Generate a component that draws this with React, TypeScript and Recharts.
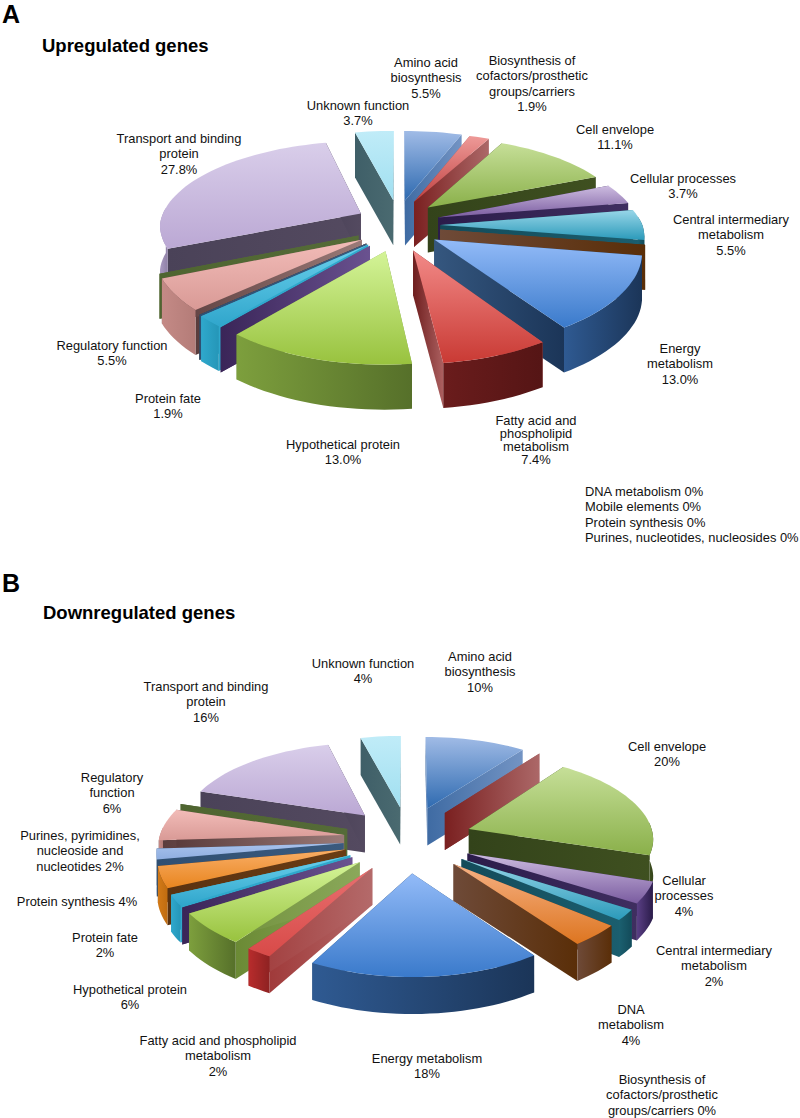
import { PieChart, Pie } from 'recharts'

const categories = [
  'Amino acid biosynthesis', 'Biosynthesis of cofactors', 'Cell envelope', 'Cellular processes',
  'Central intermediary metabolism', 'DNA metabolism', 'Energy metabolism', 'Fatty acid and phospholipid metabolism',
  'Hypothetical protein', 'Mobile elements', 'Protein fate', 'Protein synthesis', 'Purines', 'Regulatory function',
  'Signal transduction', 'Transport and binding protein', 'Unknown function',
]
const upValues = [5.5, 1.9, 11.1, 3.7, 5.5, 0, 13.0, 7.4, 13.0, 0, 1.9, 0, 0, 5.5, 0, 27.8, 3.7]
const downValues = [10, 0, 20, 4, 2, 4, 18, 2, 6, 0, 2, 4, 2, 6, 0, 16, 4]

// top light, top dark, radial wall left/right, outer wall left/right
const palette = [
  ['#A0BBE6', '#2E6AB0', '#3F6BA3', '#7394C4', '#3F6BA3', '#2E5A92'],
  ['#EE9A98', '#C04040', '#7A2020', '#AC6868', '#8A2A2A', '#6A1C1C'],
  ['#C6DF98', '#8AB04A', '#33431A', '#3F5020', '#3F5020', '#33431A'],
  ['#CDBCE0', '#7A5CA0', '#2B1C4A', '#3F2E60', '#5A3F85', '#2B1C4A'],
  ['#98D6E8', '#2B9ABA', '#134B5A', '#1B5E6E', '#1B6070', '#134B5A'],
  ['#F6B184', '#DD7520', '#6E4A38', '#5A2E08', '#6E4A38', '#5A2E08'],
  ['#93BBF8', '#3A7ACB', '#35577F', '#1B3558', '#2F5A92', '#1B3558'],
  ['#F28A88', '#C93A34', '#6E1E1E', '#AC6060', '#6A1C1C', '#551515'],
  ['#D4F498', '#98C23E', '#6B8A35', '#8AA85A', '#7D9F3D', '#56702A'],
  ['#5A3F85', '#5A3F85', '#3A2558', '#6A5290', '#3A2558', '#3A2558'],
  ['#6BD0EC', '#30A6CC', '#2FA8CC', '#2FA8CC', '#2FA8CC', '#2596B8'],
  ['#F9AE66', '#E8851F', '#5A3210', '#6A3C14', '#D27A18', '#C06C10'],
  ['#A8C2EC', '#8FAEE0', '#2F4F72', '#3A5A7E', '#7E9CC8', '#6A8AB8'],
  ['#F2BCB8', '#D99A96', '#5A3C3C', '#9A7A78', '#C48A86', '#B47C78'],
  ['#4F6530', '#4F6530', '#4F6530', '#556B38', '#4F6530', '#4F6530'],
  ['#D9CEEA', '#BBA8D4', '#4A4258', '#544A60', '#A99AC0', '#8F80A6'],
  ['#C0ECF8', '#A0DFF0', '#3F5F68', '#4A6A70', '#3F5F68', '#3F5F68'],
]
// the thin fatty acid slice of chart B has a bright outer wall
const downOverrides: Record<number, string[]> = {
  7: ['#E87070', '#D84A48', '#A03A3A', '#B46A6A', '#B82C2C', '#8E2222'],
}

const upLabels = [
  { x: 426, y: 62, lines: ['Amino acid', 'biosynthesis', '5.5%'] },
  { x: 532, y: 60, lines: ['Biosynthesis of', 'cofactors/prosthetic', 'groups/carriers', '1.9%'] },
  { x: 615, y: 129, lines: ['Cell envelope', '11.1%'] },
  { x: 683, y: 178, lines: ['Cellular processes', '3.7%'] },
  { x: 731, y: 219, lines: ['Central intermediary', 'metabolism', '5.5%'] },
  { x: 680, y: 348, lines: ['Energy', 'metabolism', '13.0%'] },
  { x: 536, y: 420, lines: ['Fatty acid and', 'phospholipid', 'metabolism', '7.4%'], step: 13 },
  { x: 343, y: 444, lines: ['Hypothetical protein', '13.0%'] },
  { x: 168, y: 398, lines: ['Protein fate', '1.9%'] },
  { x: 112, y: 345, lines: ['Regulatory function', '5.5%'] },
  { x: 179, y: 138, lines: ['Transport and binding', 'protein', '27.8%'] },
  { x: 358, y: 105, lines: ['Unknown function', '3.7%'] },
]
const upZeroLabels = ['DNA metabolism 0%', 'Mobile elements 0%', 'Protein synthesis 0%', 'Purines, nucleotides, nucleosides 0%']

const downLabels = [
  { x: 480, y: 656, lines: ['Amino acid', 'biosynthesis', '10%'] },
  { x: 363, y: 663, lines: ['Unknown function', '4%'] },
  { x: 206, y: 686, lines: ['Transport and binding', 'protein', '16%'] },
  { x: 667, y: 746, lines: ['Cell envelope', '20%'] },
  { x: 112, y: 777, lines: ['Regulatory', 'function', '6%'] },
  { x: 80, y: 835, lines: ['Purines, pyrimidines,', 'nucleoside and', 'nucleotides 2%'] },
  { x: 77, y: 901, lines: ['Protein synthesis 4%'] },
  { x: 105, y: 937, lines: ['Protein fate', '2%'] },
  { x: 130, y: 989, lines: ['Hypothetical protein', '6%'] },
  { x: 218, y: 1040, lines: ['Fatty acid and phospholipid', 'metabolism', '2%'] },
  { x: 427, y: 1058, lines: ['Energy metabolism', '18%'] },
  { x: 631, y: 1009, lines: ['DNA', 'metabolism', '4%'] },
  { x: 714, y: 950, lines: ['Central intermediary', 'metabolism', '2%'] },
  { x: 684, y: 880, lines: ['Cellular', 'processes', '4%'] },
  { x: 662, y: 1079, lines: ['Biosynthesis of', 'cofactors/prosthetic', 'groups/carriers 0%'] },
]

interface Tilt {
  id: string
  ry: number
  persp: number
  frontX: number
  ex: number
  ey: number
  depth: number
  overrides?: Record<number, string[]>
}

const upTilt: Tilt = { id: 'up', ry: 87, persp: 0.154, frontX: 0.115, ex: 0.21, ey: 0.3, depth: 45 }
const downTilt: Tilt = { id: 'down', ry: 85, persp: 0.104, frontX: 0.088, ex: 0.35, ey: 0.39, depth: 37, overrides: downOverrides }

const toTable = (values: number[]) => categories.map((name, i) => ({ name, value: values[i] }))

// back slices get painted first so the front ones cover them
const paintOrder = (values: number[]) => {
  const total = values.reduce((a, b) => a + b, 0)
  let run = 0
  const mids = values.map((v, i) => {
    const mid = run + v / 2
    run += v
    return { i, depth: -Math.cos((mid / total) * 2 * Math.PI) }
  })
  return mids.sort((a, b) => a.depth - b.depth).map((m) => m.i)
}

const poly = (pts: number[][]) => pts.map((p) => `${p[0].toFixed(1)},${p[1].toFixed(1)}`).join(' ')

// one wedge of the tilted pie, from the angles the Pie worked out
const wedge = (tilt: Tilt, only: number) => (props: any) => {
  const idx = categories.indexOf(props.name)
  if (idx !== only) return <g />
  const { cx, cy, outerRadius, startAngle, endAngle } = props
  const a0 = ((90 - startAngle) * Math.PI) / 180
  const a1 = ((90 - endAngle) * Math.PI) / 180
  const mid = (a0 + a1) / 2
  const offU = tilt.ex * Math.sin(mid)
  const offV = -tilt.ey * Math.cos(mid)
  const at = (r: number, a: number) => {
    const u = r * Math.sin(a) + offU
    const v = -r * Math.cos(a) + offV
    const s = 1 / (1 - tilt.persp * v)
    // front half widens less than it drops
    const sx = v > 0 ? 1 / (1 - tilt.frontX * v) : s
    return [cx + u * outerRadius * sx, cy + v * tilt.ry * s]
  }
  const down = (p: number[]) => [p[0], p[1] + tilt.depth]
  const tip = at(0, a0)
  const steps = Math.max(1, Math.ceil((a1 - a0) / 0.04))
  const arc: number[][] = []
  const angles: number[] = []
  for (let k = 0; k <= steps; k++) {
    const a = a0 + ((a1 - a0) * k) / steps
    angles.push(a)
    arc.push(at(1, a))
  }
  const front = arc.filter((_, k) => Math.cos(angles[k]) < 0.1)
  const first = arc[0]
  const last = arc[arc.length - 1]
  const [t0, t1, r0, r1, o0, o1] = tilt.overrides?.[idx] ?? palette[idx]
  const key = `${tilt.id}-${idx}`
  const flat = a1 - a0 < 0.001
  return (
    <g>
      <defs>
        <linearGradient id={`top-${key}`} x1="0" y1="0" x2="0" y2="1">
          <stop offset="0%" stopColor={t0} />
          <stop offset="100%" stopColor={t1} />
        </linearGradient>
        <linearGradient id={`rad-${key}`} x1="0" y1="0" x2="1" y2="0">
          <stop offset="0%" stopColor={r0} />
          <stop offset="100%" stopColor={r1} />
        </linearGradient>
        <linearGradient id={`out-${key}`} x1="0" y1="0" x2="1" y2="0">
          <stop offset="0%" stopColor={o0} />
          <stop offset="100%" stopColor={o1} />
        </linearGradient>
      </defs>
      <polygon points={poly([tip, first, down(first), down(tip)])} fill={`url(#rad-${key})`} />
      <polygon points={poly([tip, last, down(last), down(tip)])} fill={`url(#rad-${key})`} />
      {!flat && front.length > 1 && (
        <polygon points={poly([...front, ...front.map(down).reverse()])} fill={`url(#out-${key})`} />
      )}
      {!flat && <polygon points={poly([tip, ...arc])} fill={`url(#top-${key})`} />}
    </g>
  )
}

const TiltedPie = ({ values, tilt, cx, cy, r }: { values: number[]; tilt: Tilt; cx: number; cy: number; r: number }) => {
  const data = toTable(values)
  return paintOrder(values).map((i) => (
    <Pie
      key={`${tilt.id}${i}`}
      data={data}
      dataKey="value"
      nameKey="name"
      cx={cx}
      cy={cy}
      outerRadius={r}
      startAngle={90}
      endAngle={-270}
      stroke="none"
      isAnimationActive={false}
      legendType="none"
      shape={wedge(tilt, i)}
    />
  ))
}

const font = '"Liberation Sans", Arial, sans-serif'

const Label = ({ x, y, lines, step = 15.5 }: { x: number; y: number; lines: string[]; step?: number }) => (
  <>
    {lines.map((line, i) => (
      <text key={line} x={x} y={y + i * step + 4.5} textAnchor="middle" fontFamily={font} fontSize={12.9} fill="#111">
        {line}
      </text>
    ))}
  </>
)

export default function App() {
  return (
    <div style={{ position: 'absolute', left: 0, top: 0, width: 800, height: 1118, background: '#fff' }}>
      <PieChart width={800} height={1118} margin={{ top: 0, right: 0, bottom: 0, left: 0 }}>
        {TiltedPie({ values: upValues, tilt: upTilt, cx: 398, cy: 225, r: 202 })}
        {TiltedPie({ values: downValues, tilt: downTilt, cx: 408, cy: 839, r: 185 })}
      </PieChart>
      <svg width={800} height={1118} style={{ position: 'absolute', left: 0, top: 0 }}>
        <text x={2} y={23} fontFamily={font} fontSize={25} fontWeight="bold" fill="#000">A</text>
        <text x={42} y={52} fontFamily={font} fontSize={18.5} fontWeight="bold" fill="#000">Upregulated genes</text>
        <text x={2} y={592} fontFamily={font} fontSize={25} fontWeight="bold" fill="#000">B</text>
        <text x={43} y={619} fontFamily={font} fontSize={18.5} fontWeight="bold" fill="#000">Downregulated genes</text>
        {upLabels.map((l) => <Label key={l.lines[0]} {...l} />)}
        {downLabels.map((l) => <Label key={l.lines[0]} {...l} />)}
        {upZeroLabels.map((line, i) => (
          <text key={line} x={585} y={496 + i * 15.4} fontFamily={font} fontSize={12.9} fill="#111">{line}</text>
        ))}
      </svg>
    </div>
  )
}
